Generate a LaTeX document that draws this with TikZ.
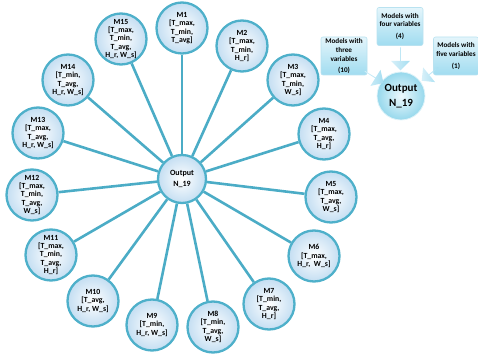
\documentclass[tikz,border=0pt]{standalone}
\usepackage{fontspec}
\setmainfont{Carlito}
\usetikzlibrary{shapes.arrows,backgrounds,calc}
\definecolor{linec}{RGB}{75,172,198}
\definecolor{ringc}{RGB}{78,176,202}
\definecolor{fillc}{RGB}{196,222,242}
\definecolor{boxtop}{RGB}{228,245,251}
\definecolor{boxbot}{RGB}{160,220,240}
\definecolor{boxedge}{RGB}{185,226,240}
\definecolor{outin}{RGB}{238,249,253}
\definecolor{outout}{RGB}{150,216,236}
\definecolor{arrtop}{RGB}{215,240,249}
\definecolor{arrbot}{RGB}{165,222,241}
\tikzset{
  sat/.style={circle, minimum size=51pt, inner sep=0pt, draw=ringc, line width=2.3pt,
    inner color=white, outer color=fillc, align=center, text=black,
    font=\fontsize{7.8}{8.3}\selectfont\bfseries},
  hub/.style={sat, minimum size=48pt, font=\fontsize{8}{11.5}\selectfont\bfseries},
  conn/.style={draw=linec, line width=2.6pt},
  mbox/.style={rectangle, rounded corners=2pt, draw=boxedge, line width=0.6pt,
    top color=boxtop, bottom color=boxbot, align=center, text=black,
    minimum width=46pt, minimum height=38pt, inner sep=1pt,
    font=\fontsize{7.2}{8.8}\selectfont\bfseries},
  bigout/.style={circle, minimum size=48pt, inner sep=0pt, draw=white!70!outout, line width=0.8pt,
    inner color=outin, outer color=outout, align=center, text=black,
    font=\fontsize{11}{15}\selectfont\bfseries},
  fat/.style={single arrow, draw=none, left color=arrtop, right color=arrbot,
    minimum height=23pt, minimum width=19pt, single arrow head extend=4.5pt,
    single arrow tip angle=90, inner sep=0pt}
}
\begin{document}
\begin{tikzpicture}[x=1pt,y=-1pt]
\useasboundingbox (0,0) rectangle (478,355);
% hub-and-spoke
\node[hub] (c) at (182,179) {Output\\N\_19};
\node[sat] (m1) at (182,28) {M1\\{[}T\_max,\\T\_min,\\T\_avg]};
\node[sat] (m2) at (242,46) {M2\\{[}T\_max,\\T\_min,\\H\_r]};
\node[sat] (m3) at (293,80) {M3\\{[}T\_max,\\T\_min,\\W\_s]};
\node[sat] (m4) at (324,134) {M4\\{[}T\_max,\\T\_avg,\\H\_r]};
\node[sat] (m5) at (331,197) {M5\\{[}T\_max,\\T\_avg,\\W\_s]};
\node[sat] (m6) at (314,256) {M6\\{[}T\_max,\\H\_r,\ \ W\_s]};
\node[sat] (m7) at (269,304) {M7\\{[}T\_min,\\T\_avg,\\H\_r]};
\node[sat] (m8) at (213,327) {M8\\{[}T\_min,\\T\_avg,\\W\_s]};
\node[sat] (m9) at (152,325) {M9\\{[}T\_min,\\H\_r, W\_s]};
\node[sat] (m10) at (93,301) {M10\\{[}T\_avg,\\H\_r, W\_s]};
\node[sat] (m11) at (51,255) {M11\\{[}T\_max,\\T\_min,\\T\_avg,\\H\_r]};
\node[sat] (m12) at (32,195) {M12\\{[}T\_max,\\T\_min,\\T\_avg,\\W\_s]};
\node[sat] (m13) at (38,133) {M13\\{[}T\_max,\\T\_avg,\\H\_r, W\_s]};
\node[sat] (m14) at (68,80) {M14\\{[}T\_min,\\T\_avg,\\H\_r, W\_s]};
\node[sat] (m15) at (121,39) {M15\\{[}T\_max,\\T\_min,\\T\_avg,\\H\_r, W\_s]};
\begin{scope}[on background layer]
\foreach \m in {m1,m2,m3,m4,m5,m6,m7,m8,m9,m10,m11,m12,m13,m14,m15}
  \draw[conn] (c) -- (\m);
\end{scope}
% right-hand summary
\node[bigout] (o) at (401,96) {Output\\N\_19};
\node[mbox] (b4) at (400,26.5) {Models with\\four variables\\[3pt](4)};
\node[mbox] (b3) at (344,56) {Models with\\three\\variables\\[2pt](10)};
\node[mbox, minimum width=45pt] (b5) at (456,56) {Models with\\five variables\\[3pt](1)};
\node[fat, rotate=-90] (a4) at ($(b4.south)!0.5!(o.north)$) {};
\node[fat, rotate=-32, minimum height=22pt] (a3) at (374,77) {};
\node[fat, rotate=-141, minimum height=21pt] (a5) at (430,74) {};
\end{tikzpicture}
\end{document}
